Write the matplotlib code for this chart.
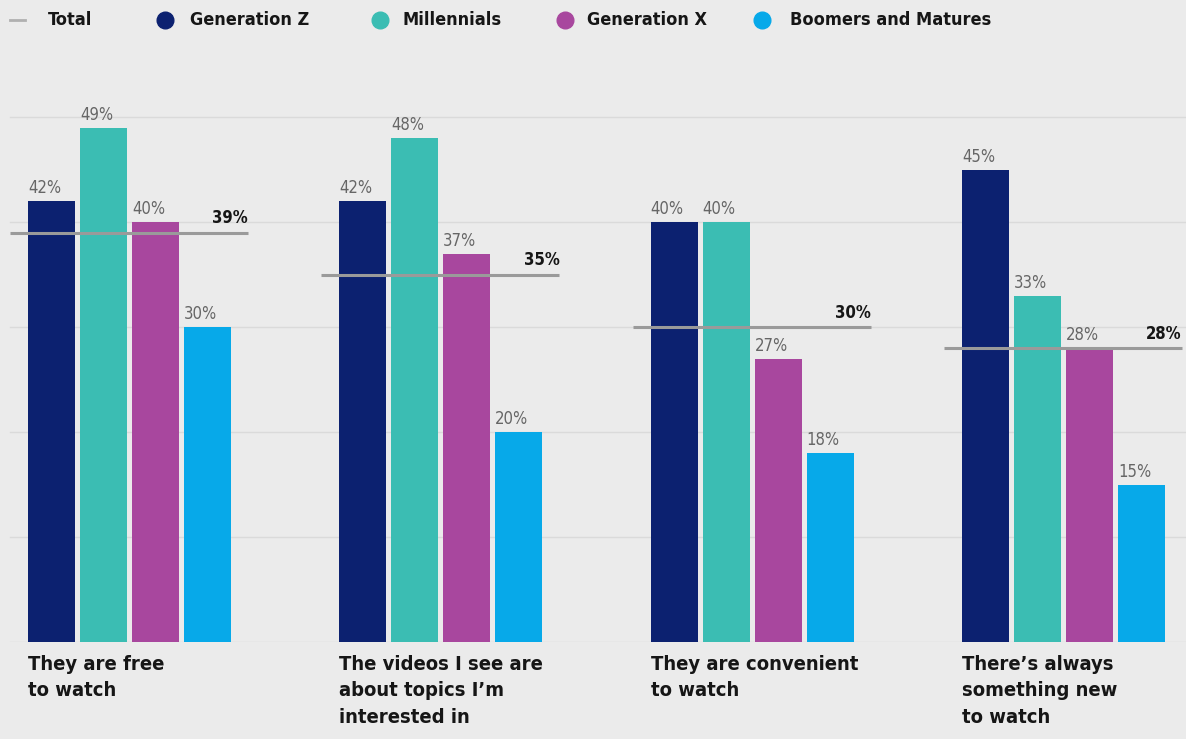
import matplotlib.pyplot as plt
import numpy as np
from matplotlib.lines import Line2D

categories = [
    "They are free\nto watch",
    "The videos I see are\nabout topics I\u2019m\ninterested in",
    "They are convenient\nto watch",
    "There\u2019s always\nsomething new\nto watch",
]
series_names = ["Generation Z", "Millennials", "Generation X", "Boomers and Matures"]
gen_z = [42, 42, 40, 45]
millennials = [49, 48, 40, 33]
gen_x = [40, 37, 27, 28]
boomers = [30, 20, 18, 15]
total = [39, 35, 30, 28]

colors = ["#0c2170", "#3bbdb3", "#a8479e", "#07a9e9"]
BG = "#ebebeb"
TEXT = "#161616"
LABEL = "#666666"
FAM = ["DejaVu Sans"]

fig = plt.figure(figsize=(11.86, 7.39), dpi=100, facecolor=BG)
ax = fig.add_axes([0, 97 / 739, 1, 577.5 / 739])
ax.set_facecolor(BG)

x = np.arange(len(categories))
width = 0.151
step = 0.167
series = [gen_z, millennials, gen_x, boomers]

ax.set_xlim(-0.416, 3.394)
ax.set_ylim(0, 55)

# light grid
for yv in range(0, 60, 10):
    ax.plot([-0.384, 3.394], [yv, yv], color="#dadada", lw=1, zorder=0)

for i, vals in enumerate(series):
    xs = x + (i - 1.5) * step
    ax.bar(xs, vals, width=width, color=colors[i], zorder=2)
    for xi, v in zip(xs, vals):
        ax.text(xi - width / 2, v + 0.35, f"{v}%", ha="left", va="bottom",
                fontsize=12, color=LABEL, family=FAM, stretch="condensed",
                fontweight="light", zorder=4)

# total reference line per group
for xi, t in zip(x, total):
    ax.plot([xi - 0.384, xi + 0.381], [t, t], color="#9a9a9a", lw=2.2,
            zorder=3, solid_capstyle="butt")
    ax.text(xi + 0.381, t + 0.5, f"{t}%", ha="right", va="bottom",
            fontsize=12, fontweight="bold", color=TEXT, family=FAM,
            stretch="condensed", zorder=4)

# category labels under each group
for xi, cat in zip(x, categories):
    ax.text(xi - 1.5 * step - width / 2, -1.2, cat, ha="left", va="top",
            fontsize=14.5, fontweight="bold", color=TEXT, family=FAM,
            stretch="condensed", linespacing=1.5)

ax.axis("off")

# legend row
ly = 1 - 20 / 739
fig.add_artist(Line2D([10 / 1186, 25 / 1186], [ly, ly], color="#b0b0b0",
                      lw=2, transform=fig.transFigure))
fig.text(48 / 1186, ly, "Total", ha="left", va="center", fontsize=13,
         fontweight="bold", color=TEXT, family=FAM, stretch="condensed")
marker_x = [165, 380, 565, 762]
text_x = [190, 402, 587, 790]
for mx, tx, name, c in zip(marker_x, text_x, series_names, colors):
    fig.add_artist(Line2D([mx / 1186], [ly], marker="o", markersize=12,
                          color=c, lw=0, transform=fig.transFigure))
    fig.text(tx / 1186, ly, name, ha="left", va="center", fontsize=13,
             fontweight="bold", color=TEXT, family=FAM, stretch="condensed")

fig.savefig("out.png", dpi=100, facecolor=BG)
